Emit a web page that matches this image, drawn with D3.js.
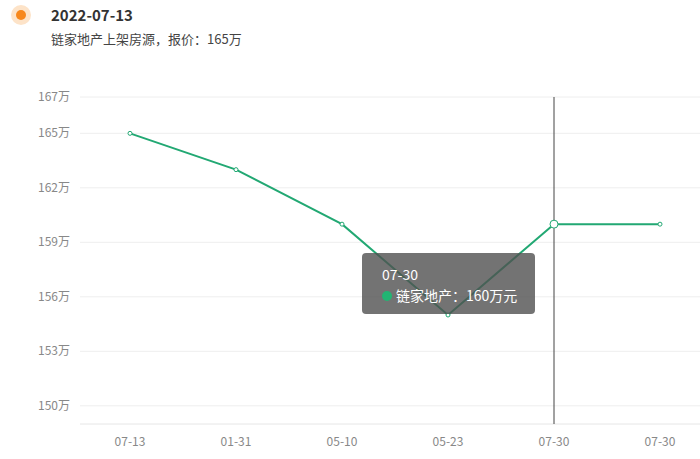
<!DOCTYPE html><html><head><meta charset="utf-8"><script src="https://cdn.jsdelivr.net/npm/d3@7"></script>
<style>body{margin:0;background:#fff;font-family:"Microsoft YaHei","Noto Sans CJK SC",sans-serif}</style></head><body><svg width="700" height="459"></svg>
<script>
const categories=["07-13","01-31","05-10","05-23","07-30","07-30"];
const values=[165,163,160,155,160,160];
const yTicks=[167,165,162,159,156,153,150];
const title="2022-07-13", subtitle="链家地产上架房源，报价：165万";
const tipLabel="07-30", tipText="链家地产：160万元", tipIndex=4;

const svg=d3.select("svg");
const x=d3.scaleBand().domain(d3.range(categories.length)).range([77,713]);
const y=d3.scaleLinear().domain([149,167]).range([424,97]);
const cx=i=>x(i)+x.bandwidth()/2;
const F="Microsoft YaHei,Noto Sans CJK SC,sans-serif";

svg.append("circle").attr("cx",21).attr("cy",15).attr("r",10).attr("fill","#fde3c8");
svg.append("circle").attr("cx",21).attr("cy",15).attr("r",5).attr("fill","#f7871b");
svg.append("text").attr("x",51).attr("y",21).text(title).attr("font-size",15).attr("font-weight","bold").attr("fill","#333").attr("font-family",F);
svg.append("text").attr("x",51).attr("y",44).text(subtitle).attr("font-size",13).attr("fill","#444").attr("font-family",F);

const g=svg.append("g");
yTicks.forEach(t=>{
 g.append("line").attr("x1",80).attr("x2",700).attr("y1",y(t)).attr("y2",y(t)).attr("stroke","#eee");
 g.append("text").attr("x",70).attr("y",y(t)+4).attr("text-anchor","end").text(t+"万").attr("font-size",12).attr("fill","#888").attr("font-family",F);
});
g.append("line").attr("x1",80).attr("x2",700).attr("y1",424).attr("y2",424).attr("stroke","#e6e6e6");
categories.forEach((c,i)=>g.append("text").attr("x",cx(i)).attr("y",446).attr("text-anchor","middle").text(c).attr("font-size",12).attr("fill","#888").attr("font-family",F));

g.append("line").attr("x1",cx(tipIndex)).attr("x2",cx(tipIndex)).attr("y1",97).attr("y2",424).attr("stroke","#444");
g.append("path").attr("d",d3.line().x((d,i)=>cx(i)).y(d=>y(d))(values)).attr("fill","none").attr("stroke","#22a873").attr("stroke-width",2);
values.forEach((v,i)=>g.append("circle").attr("cx",cx(i)).attr("cy",y(v)).attr("r",i===tipIndex?4:2).attr("fill","#fff").attr("stroke","#22a873").attr("stroke-width",1));

const tg=svg.append("g");
tg.append("rect").attr("x",362).attr("y",253).attr("width",173).attr("height",61).attr("rx",4).attr("fill","rgba(80,80,80,0.8)");
tg.append("text").attr("x",382).attr("y",280).text(tipLabel).attr("fill","#fff").attr("font-size",14).attr("font-family",F);
tg.append("circle").attr("cx",387).attr("cy",296).attr("r",5).attr("fill","#22b573");
tg.append("text").attr("x",396).attr("y",301).text(tipText).attr("fill","#fff").attr("font-size",14).attr("font-family",F);
</script></body></html>
